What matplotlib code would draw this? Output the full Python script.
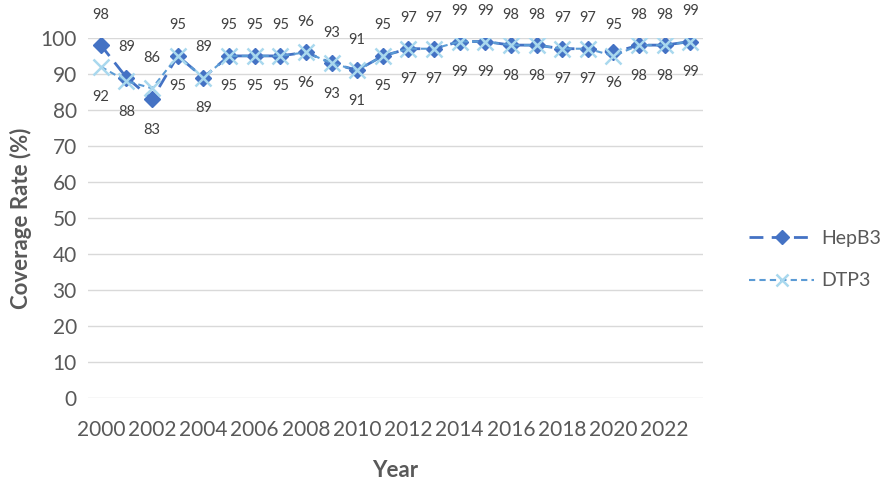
import matplotlib.pyplot as plt
import numpy as np

plt.rcParams['font.family'] = ['Lato', 'DejaVu Sans']

years = list(range(2000, 2024))
hepb3 = [98, 89, 83, 95, 89, 95, 95, 95, 96, 93, 91, 95, 97, 97, 99, 99, 98, 98, 97, 97, 96, 98, 98, 99]
dtp3 = [92, 88, 86, 95, 89, 95, 95, 95, 96, 93, 91, 95, 97, 97, 99, 99, 98, 98, 97, 97, 95, 98, 98, 99]
# years where the labels swap sides
swap_years = [2002, 2020]

gray = '#595959'
x = np.arange(len(years))

fig = plt.figure(figsize=(8.89, 4.8), dpi=100)
ax = fig.add_axes([0.099, 0.171, 0.692, 0.75])

ax.plot(x, hepb3, color='#4472C4', linestyle=(0, (5, 3)), linewidth=2,
        marker='D', markersize=8.5, markerfacecolor='#4472C4', markeredgecolor='#4472C4',
        label='HepB3', zorder=3)
ax.plot(x, dtp3, color='#5B9BD5', linestyle=(0, (3, 2)), linewidth=1.5,
        marker='x', markersize=11, markeredgewidth=1.8, markeredgecolor='#A9D8EE',
        label='DTP3', zorder=4)

# data labels
for i, yr in enumerate(years):
    up = -1 if yr in swap_years else 1
    ax.annotate(str(hepb3[i]), (x[i], hepb3[i]), xytext=(0, 22 * up),
                textcoords='offset points', ha='center', va='center',
                fontsize=10.5, color='#404040', annotation_clip=False)
    ax.annotate(str(dtp3[i]), (x[i], dtp3[i]), xytext=(0, -22 * up),
                textcoords='offset points', ha='center', va='center',
                fontsize=10.5, color='#404040', annotation_clip=False)

ax.set_xlim(-0.5, len(years) - 0.5)
ax.set_ylim(0, 100)
ax.set_yticks(range(0, 101, 10))
ax.set_xticks(x[::2])
ax.set_xticklabels([str(y) for y in years[::2]])
ax.tick_params(length=0, labelsize=15, labelcolor=gray)
ax.tick_params(axis='x', pad=16)
ax.tick_params(axis='y', pad=8)
ax.grid(axis='y', color='#D9D9D9', linewidth=1)
ax.set_axisbelow(True)
for s in ax.spines.values():
    s.set_visible(False)

ax.set_xlabel('Year', fontsize=16, fontweight='bold', color=gray, labelpad=14)
ax.set_ylabel('Coverage Rate (%)', fontsize=16, fontweight='bold', color=gray, labelpad=6)

fig.legend(loc='center left', bbox_to_anchor=(0.843, 0.459), frameon=False,
           fontsize=14, labelcolor=gray, handlelength=3.3, handletextpad=0.4,
           labelspacing=1.3, borderpad=0, borderaxespad=0, markerscale=0.85)

plt.savefig('out.png', dpi=100)
